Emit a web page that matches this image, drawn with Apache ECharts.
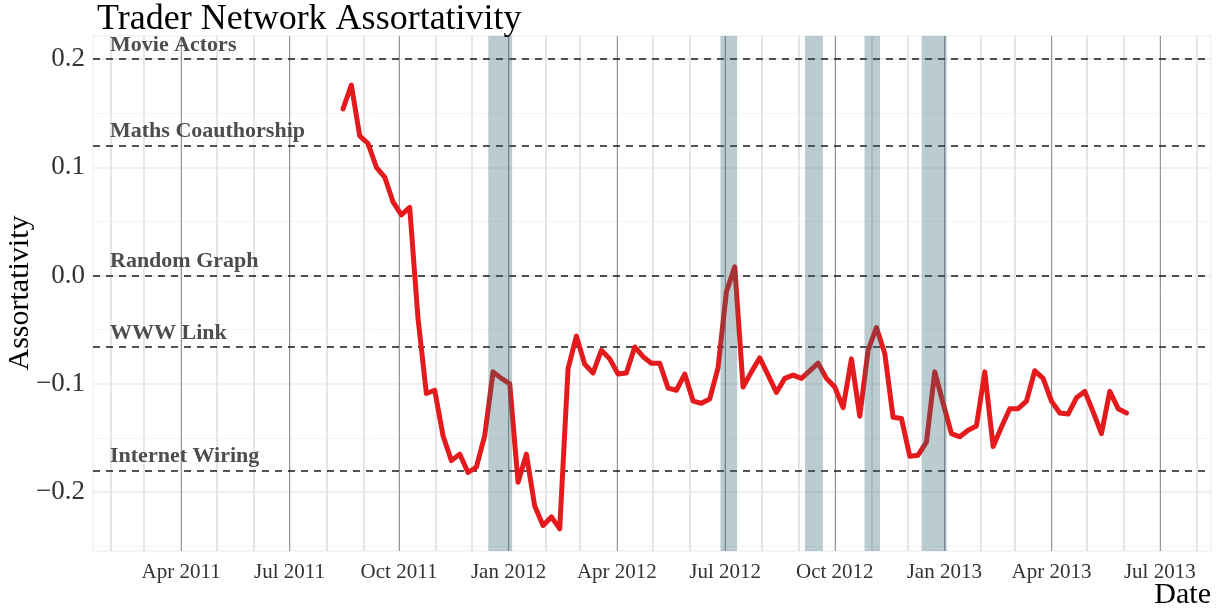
<!DOCTYPE html>
<html><head><meta charset="utf-8">
<script src="https://cdn.jsdelivr.net/npm/echarts@6/dist/echarts.min.js"></script>
<style>html,body{margin:0;padding:0;background:#fff}#c{width:1225px;height:611px}</style>
</head><body><div id="c"></div>
<script>
// ---- data ----
const firstWeek = [2011, 7, 15]; // weekly observations start (year, monthIndex, day)
const assortativity = [
  0.154, 0.176, 0.129, 0.122, 0.100, 0.091, 0.068, 0.056, 0.063, -0.040,
  -0.109, -0.106, -0.148, -0.171, -0.165, -0.182, -0.177, -0.148, -0.089, -0.095,
  -0.100, -0.191, -0.165, -0.213, -0.231, -0.223, -0.234, -0.086, -0.056, -0.082,
  -0.090, -0.069, -0.077, -0.091, -0.090, -0.066, -0.075, -0.081, -0.081, -0.104,
  -0.106, -0.091, -0.116, -0.118, -0.114, -0.085, -0.015, 0.008, -0.103, -0.089,
  -0.076, -0.092, -0.108, -0.095, -0.092, -0.095, -0.088, -0.081, -0.095, -0.103,
  -0.122, -0.077, -0.130, -0.069, -0.048, -0.072, -0.131, -0.132, -0.167, -0.166,
  -0.154, -0.089, -0.118, -0.146, -0.149, -0.143, -0.139, -0.089, -0.158, -0.140,
  -0.123, -0.123, -0.116, -0.088, -0.095, -0.116, -0.127, -0.128, -0.113, -0.107,
  -0.126, -0.146, -0.107, -0.123, -0.127
];
const bandStart = ['2011-12-15', '2012-06-27', '2012-09-06', '2012-10-26', '2012-12-13'];
const bandEnd   = ['2012-01-04', '2012-07-11', '2012-09-21', '2012-11-08', '2013-01-03'];
const refNames  = ['Movie Actors', 'Maths Coauthorship', 'Random Graph', 'WWW Link', 'Internet Wiring'];
const refValues = [0.2, 0.12, 0.0, -0.066, -0.18];
const xTickDates  = ['2011-04-01', '2011-07-01', '2011-10-01', '2012-01-01', '2012-04-01',
                     '2012-07-01', '2012-10-01', '2013-01-01', '2013-04-01', '2013-07-01'];
const xTickLabels = ['Apr 2011', 'Jul 2011', 'Oct 2011', 'Jan 2012', 'Apr 2012',
                     'Jul 2012', 'Oct 2012', 'Jan 2013', 'Apr 2013', 'Jul 2013'];
const yTicks      = [-0.2, -0.1, 0.0, 0.1, 0.2];
const yMinorTicks = [-0.25, -0.15, -0.05, 0.05, 0.15];
const xRange = ['2011-01-17', '2013-08-13'];
const yRange = [-0.2545, 0.2213];

// ---- build ----
function ts(s) { const p = s.split('-').map(Number); return new Date(p[0], p[1] - 1, p[2]).getTime(); }
const seriesData = assortativity.map((v, i) =>
  [new Date(firstWeek[0], firstWeek[1], firstWeek[2] + 7 * i).getTime(), v]);
const tickTs = xTickDates.map(ts);
const monthTs = [];
for (let y = 2011, m = 1; y < 2013 || (y === 2013 && m <= 7); m++) {
  if (m > 11) { m = 0; y++; }
  monthTs.push(new Date(y, m, 1).getTime());
}
const serif = 'Liberation Serif, Times New Roman, serif';

const chart = echarts.init(document.getElementById('c'), null, {renderer: 'canvas'});
chart.setOption({
  animation: false,
  backgroundColor: '#fff',
  title: {
    text: 'Trader Network Assortativity', left: 92, top: -3,
    textStyle: {fontFamily: serif, fontSize: 36, fontWeight: 'normal', color: '#000'}
  },
  grid: {left: 93, right: 14, top: 36, bottom: 60, show: true, borderColor: '#ebebeb', borderWidth: 1, backgroundColor: '#fff'},
  xAxis: {
    type: 'value', min: ts(xRange[0]), max: ts(xRange[1]), scale: true,
    axisLine: {show: false}, axisTick: {show: false}, splitLine: {show: false},
    axisLabel: {
      customValues: tickTs, margin: 11,
      fontFamily: serif, fontSize: 21, color: '#333',
      formatter: v => { const i = tickTs.indexOf(v); return i >= 0 ? xTickLabels[i] : ''; },
      hideOverlap: false
    }
  },
  yAxis: {
    type: 'value', min: yRange[0], max: yRange[1],
    axisLine: {show: false}, axisTick: {show: false}, splitLine: {show: false},
    axisLabel: {
      customValues: yTicks, margin: 8,
      fontFamily: serif, fontSize: 27, color: '#333',
      formatter: v => (v < -1e-9 ? '\u2212' : '') + Math.abs(v).toFixed(1)
    }
  },
  graphic: [
    {type: 'text', x: 20, y: 293, rotation: Math.PI / 2,
     style: {text: 'Assortativity', font: '30px ' + serif, fill: '#000', align: 'center', verticalAlign: 'middle'}},
    {type: 'text', x: 1211, y: 595,
     style: {text: 'Date', font: '30px ' + serif, fill: '#000', align: 'right', verticalAlign: 'middle'}}
  ],
  series: [
    { // grid lines
      type: 'line', data: [], z: 1, silent: true,
      markLine: {
        z: 1, silent: true, symbol: ['none', 'none'], label: {show: false}, animation: false, precision: 6,
        data: [
          ...yMinorTicks.map(v => ({yAxis: v, lineStyle: {color: '#f4f4f4', width: 1, type: 'solid'}})),
          ...yTicks.map(v => ({yAxis: v, lineStyle: {color: '#ebebeb', width: 1.5, type: 'solid'}})),
          ...monthTs.map(t => ({xAxis: t, lineStyle: {color: '#e6e6e6', width: 2, type: 'solid'}})),
          ...tickTs.map(t => ({xAxis: t, lineStyle: {color: '#959595', width: 1, type: 'solid'}}))
        ]
      }
    },
    { // reference levels
      type: 'line', data: [], z: 1.5, silent: true,
      markLine: {
        z: 1.5, silent: true, symbol: ['none', 'none'], animation: false, precision: 6,
        lineStyle: {color: '#1a1a1a', width: 1.5, type: [7, 6]},
        label: {show: true, position: 'insideStartTop', distance: [17, 3],
                fontFamily: serif, fontSize: 22, fontWeight: 'bold', color: '#4d4d4d',
                formatter: p => p.name},
        data: refValues.map((v, i) => ({yAxis: v, name: refNames[i]}))
      }
    },
    {
      type: 'line', name: 'Assortativity', data: seriesData, z: 2,
      showSymbol: false, symbol: 'none',
      lineStyle: {color: '#e41a1c', width: 5, join: 'round', cap: 'round'}
    },
    { // shaded periods
      type: 'line', data: [], z: 3, silent: true,
      markArea: {
        z: 3, silent: true, animation: false,
        itemStyle: {color: 'rgba(47,100,110,0.33)'},
        data: bandStart.map((s, i) => [{xAxis: ts(s)}, {xAxis: ts(bandEnd[i])}])
      }
    }
  ]
});
</script></body></html>
